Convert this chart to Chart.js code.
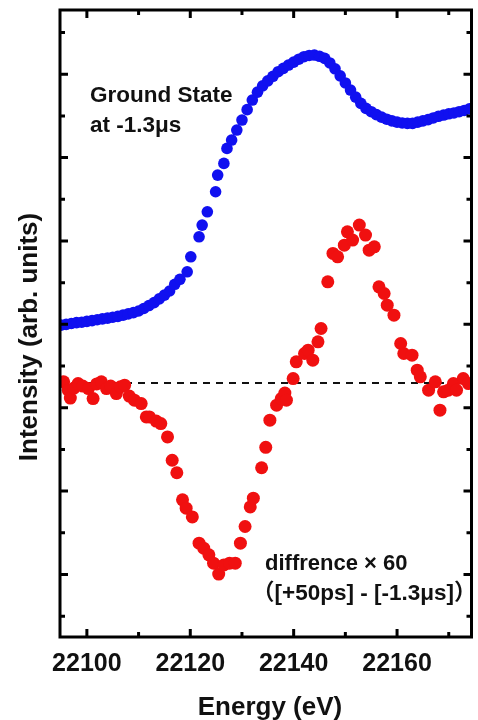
<!DOCTYPE html>
<html>
<head>
<meta charset="utf-8">
<script src="https://cdn.jsdelivr.net/npm/chart.js@4/dist/chart.umd.min.js"></script>
<style>
	body { margin: 0; background: #fff; overflow: hidden; }
	#box { width: 478px; height: 720px; }
	canvas { display: block; }
</style>
</head>
<body>
<div id="box"><canvas id="my_chart" width="478" height="720"></canvas></div>
<script>
// Ground state spectrum (blue), energy in eV, intensity in arb. units
const groundEnergy = [
	22095, 22096, 22097, 22098, 22099, 22100, 22101, 22102, 22103, 22104,
	22105, 22106, 22107, 22108, 22109, 22110, 22111, 22112, 22113, 22114,
	22115, 22116, 22117, 22118, 22119.4, 22120.1, 22121.7, 22122.3, 22123.3, 22124.9,
	22125.3, 22126.5, 22127.1, 22128, 22129, 22130, 22131, 22132, 22133, 22134,
	22135, 22136, 22137, 22138, 22139, 22140, 22141, 22142, 22143, 22144,
	22145, 22146, 22147, 22148, 22149, 22150, 22151, 22152, 22153, 22154,
	22155, 22156, 22157, 22158, 22159, 22160, 22161, 22162, 22163, 22164,
	22165, 22166, 22167, 22168, 22169, 22170, 22171, 22172, 22173, 22174
]
const groundIntensity = [
	7.98, 8.00, 8.02, 8.04, 8.05, 8.07, 8.09, 8.11, 8.13, 8.15,
	8.17, 8.19, 8.22, 8.25, 8.28, 8.32, 8.38, 8.45, 8.52, 8.61,
	8.70, 8.80, 8.96, 9.08, 9.26, 9.62, 10.10, 10.38, 10.70, 11.18,
	11.58, 11.86, 12.22, 12.42, 12.66, 12.90, 13.15, 13.38, 13.57, 13.72,
	13.84, 13.95, 14.06, 14.14, 14.22, 14.29, 14.36, 14.42, 14.45, 14.46,
	14.43, 14.38, 14.27, 14.13, 13.96, 13.79, 13.62, 13.45, 13.30, 13.18,
	13.10, 13.03, 12.97, 12.92, 12.88, 12.85, 12.83, 12.82, 12.82, 12.85,
	12.88, 12.91, 12.95, 12.99, 13.02, 13.05, 13.07, 13.10, 13.13, 13.17
]

// Difference x60 (red), plotted around the dashed zero level
const diffEnergy = [
	22095.5, 22096.4, 22096.8, 22097.5, 22098.3, 22099.2, 22100.3, 22101.2, 22101.9, 22102.8,
	22103.8, 22104.6, 22105.7, 22106.5, 22107.3, 22108.2, 22109.2, 22110.5, 22111.5, 22112.1,
	22113.4, 22114.3, 22115.6, 22116.5, 22117.4, 22118.5, 22119.2, 22120.4, 22121.7, 22122.6,
	22123.6, 22124.5, 22125.5, 22126.5, 22127.6, 22128.7, 22129.7, 22130.6, 22131.6, 22132.2,
	22133.8, 22134.6, 22135.4, 22136.7, 22137.6, 22138.3, 22138.6, 22139.9, 22140.5, 22142.1,
	22142.8, 22143.7, 22144.7, 22145.3, 22146.6, 22147.6, 22148.5, 22149.8, 22150.4, 22151.4,
	22152.7, 22153.9, 22154.6, 22155.6, 22156.5, 22157.5, 22158.1, 22159.4, 22160.7, 22161.3,
	22162.9, 22163.9, 22164.5, 22166.1, 22167.4, 22168.3, 22169.0, 22169.9, 22170.9, 22171.5,
	22172.8, 22173.8
]
const diffIntensity = [
	6.62, 6.42, 6.23, 6.47, 6.58, 6.52, 6.46, 6.22, 6.57, 6.62,
	6.46, 6.52, 6.34, 6.50, 6.54, 6.28, 6.18, 6.10, 5.78, 5.78,
	5.68, 5.62, 5.30, 4.74, 4.44, 3.79, 3.59, 3.38, 2.75, 2.63,
	2.47, 2.27, 2.01, 2.23, 2.27, 2.27, 2.75, 3.15, 3.62, 3.83,
	4.56, 5.05, 5.70, 6.06, 6.22, 6.35, 6.18, 6.70, 7.10, 7.30,
	7.38, 7.14, 7.58, 7.90, 9.02, 9.70, 9.62, 9.90, 10.22, 10.02,
	10.38, 10.14, 9.78, 9.86, 8.90, 8.74, 8.46, 8.22, 7.54, 7.30,
	7.26, 6.90, 6.74, 6.42, 6.62, 5.94, 6.38, 6.42, 6.58, 6.42,
	6.70, 6.58
]

const zeroLevel = 6.59
const xRange = [22094.8, 22174.4]
const yRange = [0.5, 15.54]
const xTickLabels = [22100, 22120, 22140, 22160]
const xMinorTicks = [22110, 22130, 22150, 22170]
const yTickValues = [1, 2, 3, 4, 5, 6, 7, 8, 9, 10, 11, 12, 13, 14, 15]

const FONT = '"Liberation Sans", Arial, sans-serif'
const PLOT_RIGHT = 475

function pairs(xs, ys) {
	return xs.map((x, i) => ({ x: x, y: ys[i] }))
}

// Frame, inward ticks and the free text
const frame = {
	id: 'frame',
	afterDraw(chart) {
		const ctx = chart.ctx
		const a = chart.chartArea
		const xs = chart.scales.x
		const ys = chart.scales.y
		ctx.save()
		ctx.strokeStyle = '#000'
		ctx.lineWidth = 3
		ctx.strokeRect(a.left, a.top, a.right - a.left, a.bottom - a.top)

		function xTick(v, len) {
			const px = xs.getPixelForValue(v)
			ctx.beginPath()
			ctx.moveTo(px, a.bottom); ctx.lineTo(px, a.bottom - len)
			ctx.moveTo(px, a.top); ctx.lineTo(px, a.top + len)
			ctx.stroke()
		}
		xTickLabels.forEach(v => xTick(v, 8))
		xMinorTicks.forEach(v => xTick(v, 5))

		yTickValues.forEach(v => {
			const py = ys.getPixelForValue(v)
			const len = v % 2 === 0 ? 8 : 5
			ctx.beginPath()
			ctx.moveTo(a.left, py); ctx.lineTo(a.left + len, py)
			ctx.moveTo(a.right, py); ctx.lineTo(a.right - len, py)
			ctx.stroke()
		})

		ctx.fillStyle = '#111'
		ctx.textBaseline = 'alphabetic'

		// axis titles
		ctx.font = 'bold 26px ' + FONT
		ctx.textAlign = 'center'
		ctx.fillText('Energy (eV)', 270, 715)
		ctx.save()
		ctx.translate(37, 337)
		ctx.rotate(-Math.PI / 2)
		ctx.fillText('Intensity (arb. units)', 0, 0)
		ctx.restore()

		// annotations
		ctx.textAlign = 'left'
		ctx.font = 'bold 22.5px ' + FONT
		ctx.fillText('Ground State', 90, 102)
		ctx.fillText('at -1.3\u03bcs', 90, 132)
		ctx.font = 'bold 22px ' + FONT + ', "Noto Sans CJK JP"'
		ctx.fillText('diffrence \u00d7 60', 265, 570)
		ctx.font = 'bold 22.5px ' + FONT + ', "Noto Sans CJK JP"'
		ctx.fillText('\uff08[+50ps] - [-1.3\u03bcs]\uff09', 252, 600)
		ctx.restore()
	}
}

const ctx = document.getElementById('my_chart')
const chart = new Chart(ctx, {
	type: 'scatter',
	data: {
		datasets: [{
			label: 'zero',
			type: 'line',
			data: [{ x: xRange[0], y: zeroLevel }, { x: xRange[1], y: zeroLevel }],
			borderColor: '#111',
			borderWidth: 2,
			borderDash: [7, 6],
			pointRadius: 0,
			order: 3
		}, {
			label: 'Ground State at -1.3us',
			data: pairs(groundEnergy, groundIntensity),
			backgroundColor: '#1010f0',
			borderWidth: 0,
			pointRadius: 5.8,
			order: 2
		}, {
			label: 'difference x60',
			data: pairs(diffEnergy, diffIntensity),
			backgroundColor: '#f01010',
			borderWidth: 0,
			pointRadius: 6.5,
			order: 1
		}]
	},
	options: {
		responsive: false,
		animation: false,
		layout: { padding: { top: 10, right: 3, left: 0, bottom: 0 } },
		plugins: {
			legend: { display: false },
			tooltip: { enabled: false }
		},
		scales: {
			x: {
				type: 'linear',
				min: xRange[0],
				max: xRange[1],
				grid: { display: false, drawTicks: false },
				border: { display: false },
				afterBuildTicks: scale => {
					scale.ticks = xTickLabels.map(v => ({ value: v }))
				},
				afterFit: scale => {
					scale.height = 83
					scale.paddingLeft = 0
					scale.paddingRight = 0
				},
				ticks: {
					padding: 12,
					maxRotation: 0,
					autoSkip: false,
					color: '#111',
					font: { family: FONT, size: 25, weight: 'bold' },
					callback: v => String(v)
				}
			},
			y: {
				min: yRange[0],
				max: yRange[1],
				grid: { display: false, drawTicks: false },
				border: { display: false },
				ticks: { display: false },
				afterFit: scale => { scale.width = 60 }
			}
		}
	},
	plugins: [frame]
})

// the layout keeps a little extra room on the right; take it back so the frame ends at x=475
const missing = PLOT_RIGHT - chart.chartArea.right
if (Math.abs(missing) > 0.2) {
	chart.options.layout.padding.right = 3 - missing
	chart.update()
}
</script>
</body>
</html>
